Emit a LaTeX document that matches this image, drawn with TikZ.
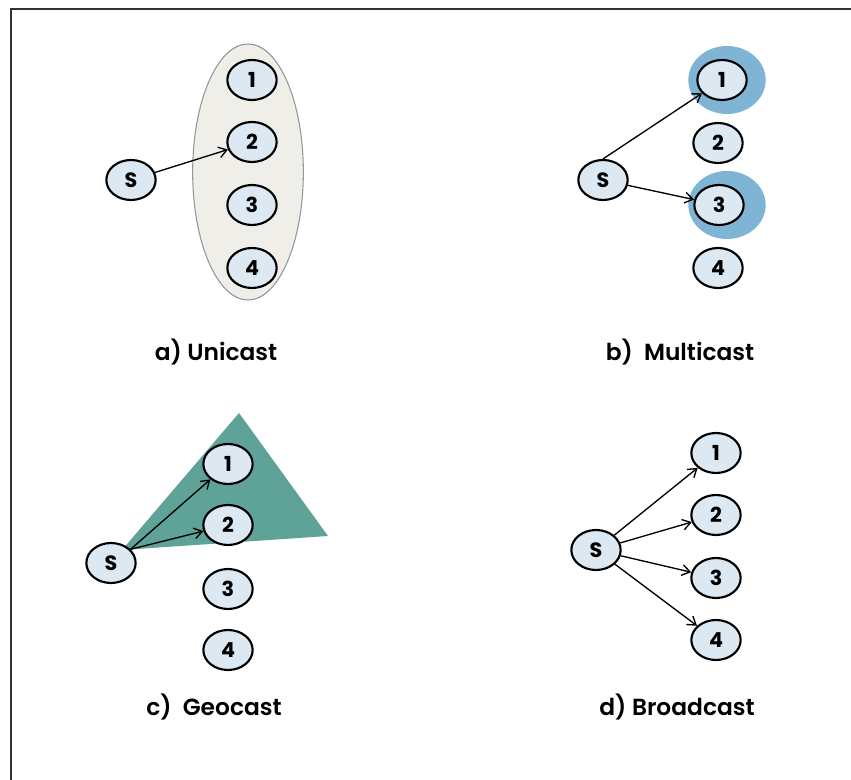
\documentclass[tikz,border=0pt]{standalone}
\usepackage{fontspec}
\setmainfont{Poppins}[UprightFont=* Medium, BoldFont=* SemiBold]
\newfontfamily\nodefont{Poppins}[UprightFont=* Bold]
\usetikzlibrary{shapes.geometric,arrows.meta}
\definecolor{nodefill}{HTML}{DCE9F3}
\definecolor{halo}{HTML}{80B4D4}
\definecolor{groupfill}{HTML}{EFEEE8}
\definecolor{groupline}{HTML}{8C9A9A}
\definecolor{tealc}{HTML}{5FA398}
\tikzset{
  nd/.style={ellipse, draw=black, line width=1.6pt, fill=nodefill, minimum width=37pt, minimum height=30pt, inner sep=0pt, font=\fontsize{15.5}{15.5}\selectfont\nodefont},
  arr/.style={-{Straight Barb[length=6pt,width=8pt]}, line width=1pt, black},
  captionlabel/.style={font=\fontsize{17.5}{17.5}\selectfont\bfseries},
  halostyle/.style={ellipse, fill=halo, minimum width=58pt, minimum height=51pt, inner sep=0pt}
}
\begin{document}
\begin{tikzpicture}[x=0.75pt,y=-0.75pt]
\useasboundingbox (0,0) rectangle (851,780);
\draw[line width=1.6pt, black!80] (11,780) -- (11,9) -- (851,9);

% a) Unicast
\node[ellipse, draw=groupline, line width=0.8pt, fill=groupfill, minimum width=83pt, minimum height=192pt, inner sep=0pt] (grp) at (248,172) {};
\node[nd] (a0) at (131,180) {S};
\node[nd] (a1) at (252,80) {1};
\node[nd] (a2) at (252,142) {2};
\node[nd] (a3) at (252,205) {3};
\node[nd] (a4) at (252,268) {4};
\draw[arr] (a0) -- (a2);
\node[captionlabel] (la) at (216,352) {a)\ Unicast};

% b) Multicast
\node[halostyle] (h1) at (727,80) {};
\node[halostyle] (h3) at (727,205) {};
\node[nd] (b0) at (603,180) {S};
\node[nd] (b1) at (722,80) {1};
\node[nd] (b2) at (718,143) {2};
\node[nd] (b3) at (719,205) {3};
\node[nd] (b4) at (718,268) {4};
\draw[arr] (b0.north) -- (b1);
\draw[arr] (b0) -- (b3);
\node[captionlabel] (lb) at (680,352) {b)\ \ Multicast};

% c) Geocast
\coordinate (t1) at (239,413);
\coordinate (t2) at (328,536);
\coordinate (t3) at (122,550);
\fill[tealc] (t1) -- (t2) -- (t3) -- cycle;
\node[nd] (c0) at (111,563) {S};
\node[nd] (c1) at (228,464) {1};
\node[nd] (c2) at (228,525) {2};
\node[nd] (c3) at (228,589) {3};
\node[nd] (c4) at (228,650) {4};
\draw[arr] (c0.35) -- (c1);
\draw[arr] (c0.35) -- (c2);
\node[captionlabel] (lc) at (214,707) {c)\ \ Geocast};

% d) Broadcast
\node[nd] (d0) at (596,550) {S};
\node[nd] (d1) at (716,453) {1};
\node[nd] (d2) at (716,515) {2};
\node[nd] (d3) at (716,578) {3};
\node[nd] (d4) at (716,640) {4};
\draw[arr] (d0) -- (d1);
\draw[arr] (d0) -- (d2);
\draw[arr] (d0) -- (d3);
\draw[arr] (d0) -- (d4);
\node[captionlabel] (ld) at (677,707) {d)\ Broadcast};
\end{tikzpicture}
\end{document}
